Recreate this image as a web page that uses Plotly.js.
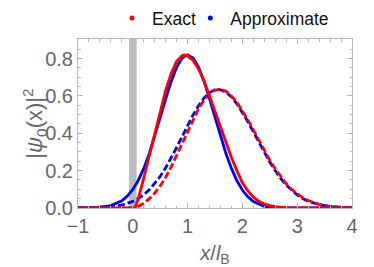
<!DOCTYPE html>
<html>
<head>
<meta charset="utf-8">
<script src="https://cdn.plot.ly/plotly-3.0.1.min.js"></script>
<style>html,body{margin:0;padding:0;background:#fff;}#chart{width:374px;height:267px;}</style>
</head>
<body>
<div id="chart"></div>
<script>
// Approximate, solid (blue)
const approxSolidX = [-1.0,-0.8,-0.6,-0.4,-0.2,-0.1,0.0,0.1,0.2,0.3,0.4,0.5,0.6,0.7,0.8,0.9,1.0,1.1,1.2,1.3,1.4,1.5,1.6,1.7,1.8,1.9,2.0,2.1,2.2,2.4,2.6,2.8,3.0,3.5,4.0];
const approxSolidY = [0.0002,0.0009,0.0037,0.013,0.039,0.064,0.099,0.148,0.212,0.291,0.384,0.484,0.585,0.678,0.754,0.803,0.82,0.803,0.754,0.678,0.585,0.484,0.384,0.291,0.212,0.146,0.096,0.060,0.034,0.009,0.002,0.0005,0.0001,0,0];
// Exact, solid (red)
const exactSolidX = [-1.0,0.0,0.04,0.1,0.15,0.2,0.3,0.4,0.5,0.6,0.7,0.8,0.9,0.95,1.0,1.1,1.2,1.3,1.4,1.5,1.6,1.7,1.8,1.9,2.0,2.1,2.2,2.3,2.4,2.5,2.6,2.8,3.0,3.2,3.6,4.0];
const exactSolidY = [0,0,0,0.05,0.10,0.16,0.28,0.40,0.52,0.63,0.72,0.785,0.815,0.82,0.815,0.79,0.745,0.68,0.60,0.515,0.43,0.345,0.27,0.20,0.135,0.092,0.058,0.036,0.022,0.013,0.007,0.002,0.0006,0.0002,0,0];
// Approximate, dashed (blue)
const approxDashX = [-1.0,-0.6,-0.4,-0.2,0.0,0.1,0.2,0.3,0.4,0.5,0.6,0.7,0.8,0.9,1.0,1.1,1.2,1.3,1.4,1.5,1.55,1.6,1.7,1.8,1.9,2.0,2.1,2.2,2.3,2.4,2.5,2.6,2.7,2.8,2.9,3.0,3.1,3.2,3.4,3.6,3.8,4.0];
const approxDashY = [0.0003,0.0025,0.0066,0.016,0.0355,0.051,0.071,0.097,0.130,0.169,0.215,0.267,0.324,0.383,0.442,0.498,0.548,0.589,0.618,0.633,0.635,0.633,0.620,0.595,0.558,0.513,0.462,0.408,0.352,0.298,0.246,0.200,0.158,0.123,0.094,0.070,0.051,0.036,0.0175,0.0077,0.0031,0.0012];
// Exact, dashed (red)
const exactDashX = [-1.0,0.0,0.05,0.1,0.2,0.3,0.4,0.5,0.6,0.7,0.8,0.9,1.0,1.1,1.2,1.3,1.4,1.5,1.6,1.7,1.8,1.9,2.0,2.1,2.2,2.3,2.4,2.5,2.6,2.7,2.8,2.9,3.0,3.1,3.2,3.4,3.6,3.8,4.0];
const exactDashY = [0,0,0,0.008,0.025,0.05,0.08,0.118,0.165,0.22,0.283,0.35,0.415,0.477,0.532,0.578,0.612,0.631,0.636,0.625,0.60,0.565,0.522,0.472,0.418,0.362,0.308,0.256,0.209,0.167,0.13,0.10,0.075,0.055,0.04,0.02,0.009,0.004,0.0015];
// Shaded wall region
const wallX = [-0.07, 0.07];
const legendNames = ["Exact", "Approximate"];
const xTicks = [-1, 0, 1, 2, 3, 4];
const yTicks = [0, 0.2, 0.4, 0.6, 0.8];
const yTickText = ["0.0", "0.2", "0.4", "0.6", "0.8"];
const yTitle = "|<i>ψ</i><sub>0</sub>(x)|<sup>2</sup>";
const xTitle = "<i>x</i>/<i>l</i><sub>B</sub>";

const RED = "#ff0000", BLUE = "#0000ff";
const traces = [
  {x: approxDashX, y: approxDashY, mode: "lines", line: {color: BLUE, width: 2.8, dash: "7px,3px"}, showlegend: false, hoverinfo: "skip"},
  {x: exactDashX, y: exactDashY, mode: "lines", line: {color: RED, width: 2.8, dash: "7px,3px"}, showlegend: false, hoverinfo: "skip"},
  {x: approxSolidX, y: approxSolidY, mode: "lines", line: {color: BLUE, width: 2.8}, showlegend: false, hoverinfo: "skip"},
  {x: exactSolidX, y: exactSolidY, mode: "lines", line: {color: RED, width: 2.8}, showlegend: false, hoverinfo: "skip"},
  {x: [null], y: [null], mode: "markers", marker: {color: RED, size: 5}, name: legendNames[0], legend: "legend"},
  {x: [null], y: [null], mode: "markers", marker: {color: BLUE, size: 5}, name: legendNames[1], legend: "legend2"}
];
const axisCol = "#b8b8b8";
const labCol = "#666666";
const legBase = {orientation: "h", y: 1.124, yanchor: "middle", xanchor: "left",
                 font: {size: 17.5, color: "#111111"}, itemwidth: 30, bgcolor: "rgba(0,0,0,0)", borderwidth: 0};
const layout = {
  width: 374, height: 267,
  margin: {l: 78, r: 22, t: 39, b: 59, autoexpand: false},
  paper_bgcolor: "#ffffff", plot_bgcolor: "#ffffff",
  font: {family: "Liberation Sans, Arial, sans-serif", color: labCol},
  showlegend: true,
  legend: Object.assign({}, legBase, {x: 0.124}),
  legend2: Object.assign({}, legBase, {x: 0.41}),
  xaxis: {range: [-1, 4], tickvals: xTicks, showgrid: false, zeroline: false,
          showline: true, mirror: "ticks", linecolor: axisCol, linewidth: 1,
          ticks: "inside", ticklen: 5, tickcolor: axisCol, tickfont: {size: 20, color: labCol},
          minor: {ticks: "inside", ticklen: 2.5, dtick: 0.2, tickcolor: axisCol, showgrid: false},
          title: {text: xTitle, font: {size: 20, color: labCol}, standoff: 12}},
  yaxis: {range: [0, 0.905], tickvals: yTicks, ticktext: yTickText, showgrid: false, zeroline: false,
          showline: true, mirror: "ticks", linecolor: axisCol, linewidth: 1,
          ticks: "inside", ticklen: 5, tickcolor: axisCol, tickfont: {size: 20, color: labCol},
          minor: {ticks: "inside", ticklen: 2.5, dtick: 0.05, tickcolor: axisCol, showgrid: false}},
  annotations: [{text: yTitle, xref: "paper", yref: "paper", x: -0.16, y: 0.5, xanchor: "center", yanchor: "middle",
                 textangle: -90, showarrow: false, font: {size: 22, color: labCol}}],
  shapes: [{type: "rect", xref: "x", yref: "paper", x0: wallX[0], x1: wallX[1], y0: 0, y1: 1,
            fillcolor: "#bdbdbd", line: {width: 0}, layer: "below"}]
};
Plotly.newPlot("chart", traces, layout, {displayModeBar: false, staticPlot: true});
</script>
</body>
</html>
